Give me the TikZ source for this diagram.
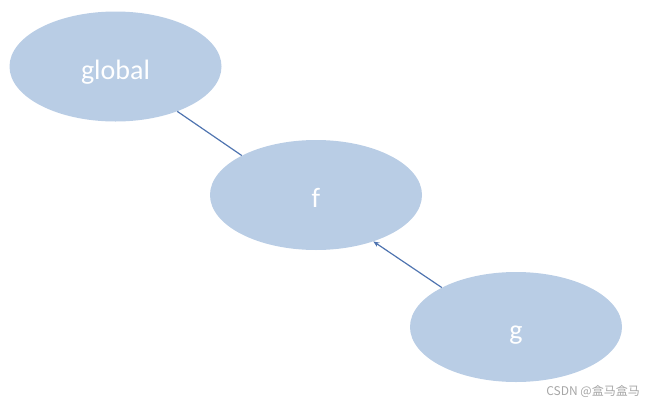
\documentclass[tikz,border=0pt]{standalone}
\usepackage{fontspec}
\setmainfont{Carlito}
\newfontfamily\cjk{Noto Sans CJK SC}
\usetikzlibrary{shapes.geometric,arrows.meta}
\definecolor{ellfill}{HTML}{B9CDE5}
\definecolor{linkcol}{HTML}{4F74B0}
\definecolor{wmgray}{HTML}{A6A6A6}
\tikzset{
  bubble/.style={ellipse, fill=ellfill, draw=none, minimum width=212pt, minimum height=110pt, inner sep=0pt, text=white, text height=25pt, text depth=0pt, font=\fontsize{28}{30}\selectfont},
  link/.style={draw=linkcol, line width=1.2pt},
  linkarrow/.style={link, -{Stealth[length=6pt,width=5pt]}}
}
\begin{document}
\begin{tikzpicture}[x=1pt,y=-1pt]
\useasboundingbox (0,0) rectangle (650,402);
\node[bubble] (global) at (115.5,66.5) {global};
\node[bubble] (f) at (316,195) {f};
\node[bubble] (g) at (516,327) {g};
\draw[link] (f.152) -- (global.-36);
\draw[linkarrow] (g.152) -- (f.-39);
\node[anchor=east, text=wmgray, inner sep=0pt, font=\cjk\fontsize{12}{14}\selectfont] (wm) at (640,391) {CSDN @盒马盒马};
\end{tikzpicture}
\end{document}
